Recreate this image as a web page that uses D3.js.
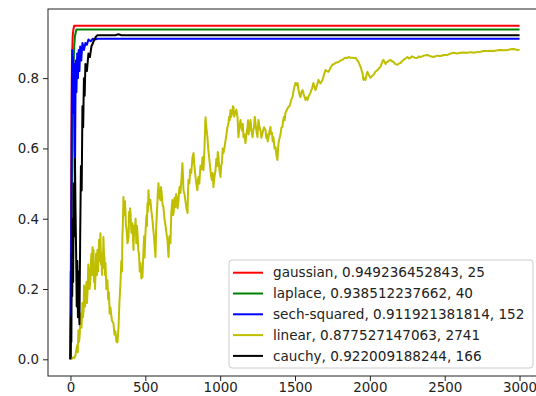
<!DOCTYPE html>
<html>
<head>
<meta charset="utf-8">
<script src="https://cdn.jsdelivr.net/npm/d3@7"></script>
<style>
  body { margin: 0; background: #fff; }
  text { font-family: "DejaVu Sans", sans-serif; }
</style>
</head>
<body>
<div id="chart"></div>
<script>
// chart size, plot area roughly like the matplotlib figure
const margin = { top: 9, right: -6, bottom: 20, left: 48 };
const W = 536, H = 396;
const width = W - margin.left - margin.right;
const height = H - margin.top - margin.bottom;

const xTicks = [0, 500, 1000, 1500, 2000, 2500, 3000];
const yTicks = [0.0, 0.2, 0.4, 0.6, 0.8];

const names = ["gaussian", "laplace", "sech-squared", "linear", "cauchy"];
const bestAcc = ["0.949236452843", "0.938512237662", "0.911921381814", "0.877527147063", "0.922009188244"];
const bestIter = [25, 40, 152, 2741, 166];
const colors = ["#ff0000", "#008000", "#0000ff", "#bfbf00", "#000000"];

// [iteration, accuracy]
const gaussian = [[0, 0], [3, 0.3], [6, 0.6], [10, 0.85], [15, 0.92], [20, 0.94], [25, 0.949], [3000, 0.949]];
const laplace = [[0, 0], [5, 0.2], [10, 0.5], [15, 0.7], [20, 0.83], [25, 0.89], [30, 0.92], [40, 0.9385], [3000, 0.9385]];
const sech = [[0, 0], [2, 0.25], [4, 0.19], [6, 0.42], [8, 0.62], [10, 0.8], [12, 0.88], [15, 0.75], [18, 0.86],
  [21, 0.7], [24, 0.84], [27, 0.6], [30, 0.52], [33, 0.72], [36, 0.85], [40, 0.76], [45, 0.87], [50, 0.8],
  [55, 0.88], [60, 0.82], [65, 0.89], [72, 0.85], [80, 0.9], [90, 0.88], [100, 0.9], [110, 0.895],
  [120, 0.91], [135, 0.905], [150, 0.912], [165, 0.91], [180, 0.912], [3000, 0.912]];
const linear = [[0, 0.003], [10, 0.002], [20, 0.006], [27, 0.004], [33, 0.011], [40, 0.03], [45, 0.04], [49, 0.02],
  [53, 0.083], [58, 0.05], [62, 0.07], [66, 0.12], [70, 0.13], [74, 0.09], [80, 0.16], [84, 0.12], [88, 0.14],
  [91, 0.21], [94, 0.197], [97, 0.15], [100, 0.17], [107, 0.22], [110, 0.16], [114, 0.188], [119, 0.27],
  [124, 0.25], [128, 0.2], [134, 0.234], [137, 0.28], [140, 0.3], [144, 0.24], [147, 0.319], [150, 0.28],
  [154, 0.311], [157, 0.22], [160, 0.26], [164, 0.2], [167, 0.234], [171, 0.3], [174, 0.29], [177, 0.24],
  [180, 0.311], [184, 0.25], [187, 0.282], [191, 0.34], [194, 0.33], [197, 0.28], [200, 0.359], [204, 0.27],
  [207, 0.3], [211, 0.24], [214, 0.302], [217, 0.26], [220, 0.348], [224, 0.3], [227, 0.29], [231, 0.24],
  [234, 0.274], [240, 0.2], [247, 0.225], [252, 0.17], [257, 0.19], [262, 0.13], [267, 0.148], [277, 0.11],
  [287, 0.103], [294, 0.07], [300, 0.08], [307, 0.05], [314, 0.048], [321, 0.091], [327, 0.16], [334, 0.217],
  [340, 0.28], [344, 0.25], [347, 0.348], [351, 0.4], [354, 0.462], [357, 0.43], [360, 0.41], [364, 0.45],
  [367, 0.425], [371, 0.38], [375, 0.37], [381, 0.33], [388, 0.348], [392, 0.42], [395, 0.4], [398, 0.43],
  [401, 0.416], [407, 0.36], [414, 0.387], [418, 0.34], [421, 0.311], [426, 0.38], [430, 0.36], [435, 0.4],
  [440, 0.33], [444, 0.38], [448, 0.359], [453, 0.31], [458, 0.3], [463, 0.25], [468, 0.274], [474, 0.23],
  [481, 0.234], [485, 0.28], [488, 0.311], [492, 0.35], [495, 0.29], [498, 0.33], [501, 0.359], [505, 0.39],
  [508, 0.41], [511, 0.38], [514, 0.444], [517, 0.42], [521, 0.481], [527, 0.44], [534, 0.453], [541, 0.42],
  [548, 0.396], [553, 0.37], [558, 0.35], [563, 0.32], [568, 0.291], [573, 0.38], [578, 0.42], [583, 0.47],
  [588, 0.501], [594, 0.46], [601, 0.453], [605, 0.49], [610, 0.47], [615, 0.44], [621, 0.433], [628, 0.4],
  [635, 0.38], [641, 0.36], [648, 0.339], [655, 0.291], [661, 0.35], [668, 0.33], [674, 0.42], [681, 0.453],
  [686, 0.41], [690, 0.42], [695, 0.46], [701, 0.433], [706, 0.47], [710, 0.46], [716, 0.43], [722, 0.453],
  [728, 0.49], [735, 0.473], [741, 0.51], [748, 0.558], [752, 0.52], [755, 0.481], [762, 0.47], [768, 0.45],
  [775, 0.43], [782, 0.416], [785, 0.47], [788, 0.51], [794, 0.5], [800, 0.54], [807, 0.53], [815, 0.575],
  [822, 0.587], [828, 0.55], [835, 0.52], [841, 0.5], [848, 0.481], [852, 0.51], [855, 0.519], [861, 0.5],
  [868, 0.55], [875, 0.54], [882, 0.575], [889, 0.538], [895, 0.6], [899, 0.65], [902, 0.689], [908, 0.66],
  [915, 0.632], [920, 0.6], [925, 0.58], [930, 0.56], [935, 0.538], [940, 0.52], [945, 0.51], [950, 0.53],
  [955, 0.49], [962, 0.52], [969, 0.538], [974, 0.57], [979, 0.55], [984, 0.59], [989, 0.575], [995, 0.54],
  [1002, 0.519], [1007, 0.55], [1012, 0.56], [1017, 0.6], [1022, 0.587], [1028, 0.6], [1035, 0.62],
  [1042, 0.64], [1049, 0.661], [1055, 0.67], [1060, 0.69], [1064, 0.68], [1069, 0.709], [1074, 0.69],
  [1080, 0.7], [1085, 0.72], [1089, 0.718], [1094, 0.69], [1100, 0.7], [1108, 0.71], [1116, 0.689],
  [1122, 0.632], [1128, 0.66], [1136, 0.681], [1141, 0.66], [1146, 0.65], [1151, 0.67], [1156, 0.632],
  [1162, 0.64], [1169, 0.615], [1175, 0.64], [1183, 0.661], [1186, 0.68], [1190, 0.64], [1196, 0.66],
  [1203, 0.681], [1209, 0.65], [1216, 0.632], [1221, 0.65], [1226, 0.66], [1231, 0.69], [1236, 0.672],
  [1242, 0.65], [1249, 0.632], [1253, 0.66], [1256, 0.681], [1263, 0.66], [1270, 0.65], [1276, 0.63],
  [1283, 0.644], [1293, 0.66], [1303, 0.652], [1308, 0.63], [1313, 0.64], [1318, 0.62], [1323, 0.632],
  [1330, 0.65], [1336, 0.661], [1341, 0.64], [1346, 0.645], [1351, 0.62], [1356, 0.632], [1363, 0.6],
  [1370, 0.604], [1376, 0.58], [1383, 0.567], [1387, 0.6], [1390, 0.615], [1397, 0.63], [1403, 0.64],
  [1410, 0.66], [1416, 0.661], [1421, 0.68], [1426, 0.69], [1431, 0.68], [1436, 0.701], [1446, 0.71],
  [1456, 0.718], [1463, 0.72], [1470, 0.73], [1476, 0.74], [1483, 0.746], [1493, 0.77], [1503, 0.786],
  [1510, 0.78], [1517, 0.786], [1522, 0.77], [1527, 0.76], [1532, 0.75], [1537, 0.746], [1543, 0.76],
  [1550, 0.766], [1555, 0.76], [1560, 0.75], [1565, 0.745], [1570, 0.738], [1577, 0.745], [1583, 0.738],
  [1593, 0.75], [1603, 0.758], [1613, 0.77], [1623, 0.786], [1630, 0.775], [1637, 0.766], [1647, 0.78],
  [1657, 0.795], [1663, 0.79], [1670, 0.785], [1677, 0.79], [1684, 0.795], [1694, 0.81], [1704, 0.823],
  [1714, 0.82], [1724, 0.818], [1737, 0.83], [1750, 0.838], [1760, 0.84], [1770, 0.843], [1781, 0.845],
  [1791, 0.846], [1804, 0.85], [1817, 0.852], [1827, 0.856], [1837, 0.858], [1847, 0.857], [1857, 0.86],
  [1870, 0.858], [1884, 0.858], [1894, 0.857], [1904, 0.858], [1914, 0.852], [1924, 0.846], [1932, 0.838],
  [1940, 0.83], [1946, 0.82], [1951, 0.815], [1955, 0.8], [1958, 0.795], [1964, 0.8], [1971, 0.795],
  [1978, 0.81], [1984, 0.818], [1994, 0.808], [2004, 0.801], [2014, 0.806], [2024, 0.809], [2037, 0.818],
  [2051, 0.823], [2061, 0.828], [2071, 0.832], [2081, 0.845], [2091, 0.852], [2098, 0.846], [2105, 0.84],
  [2111, 0.845], [2118, 0.846], [2128, 0.85], [2138, 0.852], [2148, 0.848], [2158, 0.846], [2171, 0.84],
  [2185, 0.838], [2195, 0.842], [2205, 0.843], [2215, 0.848], [2225, 0.852], [2238, 0.856], [2251, 0.86],
  [2262, 0.856], [2272, 0.858], [2282, 0.862], [2292, 0.86], [2305, 0.857], [2318, 0.858], [2328, 0.862],
  [2338, 0.86], [2360, 0.864], [2385, 0.866], [2405, 0.862], [2425, 0.86], [2450, 0.864], [2472, 0.863],
  [2495, 0.866], [2519, 0.866], [2540, 0.87], [2559, 0.872], [2582, 0.87], [2606, 0.872], [2630, 0.873],
  [2652, 0.872], [2672, 0.874], [2692, 0.872], [2715, 0.874], [2739, 0.875], [2760, 0.877], [2786, 0.877],
  [2805, 0.878], [2826, 0.877], [2850, 0.879], [2873, 0.88], [2895, 0.879], [2920, 0.88], [2940, 0.882],
  [2960, 0.883], [2980, 0.881], [3000, 0.88]];
const cauchy = [[0, 0], [3, 0.12], [6, 0.05], [9, 0.3], [12, 0.18], [15, 0.4], [18, 0.22], [22, 0.5], [26, 0.35],
  [30, 0.57], [34, 0.42], [38, 0.3], [42, 0.15], [46, 0.28], [50, 0.12], [55, 0.25], [60, 0.1], [65, 0.35],
  [70, 0.55], [75, 0.48], [80, 0.72], [85, 0.66], [90, 0.8], [95, 0.75], [100, 0.84], [110, 0.82], [120, 0.87],
  [130, 0.86], [140, 0.89], [150, 0.9], [160, 0.91], [170, 0.918], [180, 0.922], [300, 0.922], [320, 0.925],
  [340, 0.922], [3000, 0.922]];

const allSeries = [gaussian, laplace, sech, linear, cauchy];

const svg = d3.select("#chart")
  .append("svg")
  .attr("width", W)
  .attr("height", H);

const g = svg.append("g")
  .attr("transform", `translate(${margin.left}, ${margin.top})`);

const xScale = d3.scaleLinear().domain([-150, 3150]).range([0, width]);
const yScale = d3.scaleLinear().domain([-0.0475, 0.9967]).range([height, 0]);

g.append("clipPath").attr("id", "clip")
  .append("rect").attr("width", width).attr("height", height);

const line = d3.line()
  .x(d => xScale(d[0]))
  .y(d => yScale(d[1]));

allSeries.forEach((s, i) => {
  g.append("path")
    .datum(s)
    .attr("clip-path", "url(#clip)")
    .attr("fill", "none")
    .attr("stroke", colors[i])
    .attr("stroke-width", 2)
    .attr("stroke-linejoin", "round")
    .attr("d", line);
});

// axes
const xAxis = d3.axisBottom(xScale).tickValues(xTicks).tickSize(5).tickPadding(1).tickFormat(d3.format("d"));
const yAxis = d3.axisLeft(yScale).tickValues(yTicks).tickSize(5).tickPadding(4).tickFormat(d3.format(".1f"));

const gx = g.append("g").attr("transform", `translate(0, ${height})`).call(xAxis);
const gy = g.append("g").call(yAxis);
[gx, gy].forEach(a => {
  a.select(".domain").remove();
  a.selectAll("text").attr("font-size", 13.4).attr("fill", "#222").style("font-family", "DejaVu Sans");
  a.selectAll("line").attr("stroke", "#222");
});

// frame
g.append("rect")
  .attr("width", width)
  .attr("height", height)
  .attr("fill", "none")
  .attr("stroke", "#222")
  .attr("stroke-width", 1);

// legend
const legX = 229 - margin.left, legY = 260 - margin.top;
const leg = g.append("g").attr("transform", `translate(${legX}, ${legY})`);
leg.append("rect")
  .attr("width", 304).attr("height", 108)
  .attr("rx", 3)
  .attr("fill", "#fff").attr("fill-opacity", 0.8)
  .attr("stroke", "#ccc");
names.forEach((n, i) => {
  const cy = 12.7 + i * 20.8;
  leg.append("line")
    .attr("x1", 4).attr("x2", 34).attr("y1", cy).attr("y2", cy)
    .attr("stroke", colors[i]).attr("stroke-width", 2);
  leg.append("text")
    .attr("x", 44).attr("y", cy).attr("dy", "0.35em")
    .attr("font-size", 13.6).attr("fill", "#222")
    .text(`${n}, ${bestAcc[i]}, ${bestIter[i]}`);
});
</script>
</body>
</html>
